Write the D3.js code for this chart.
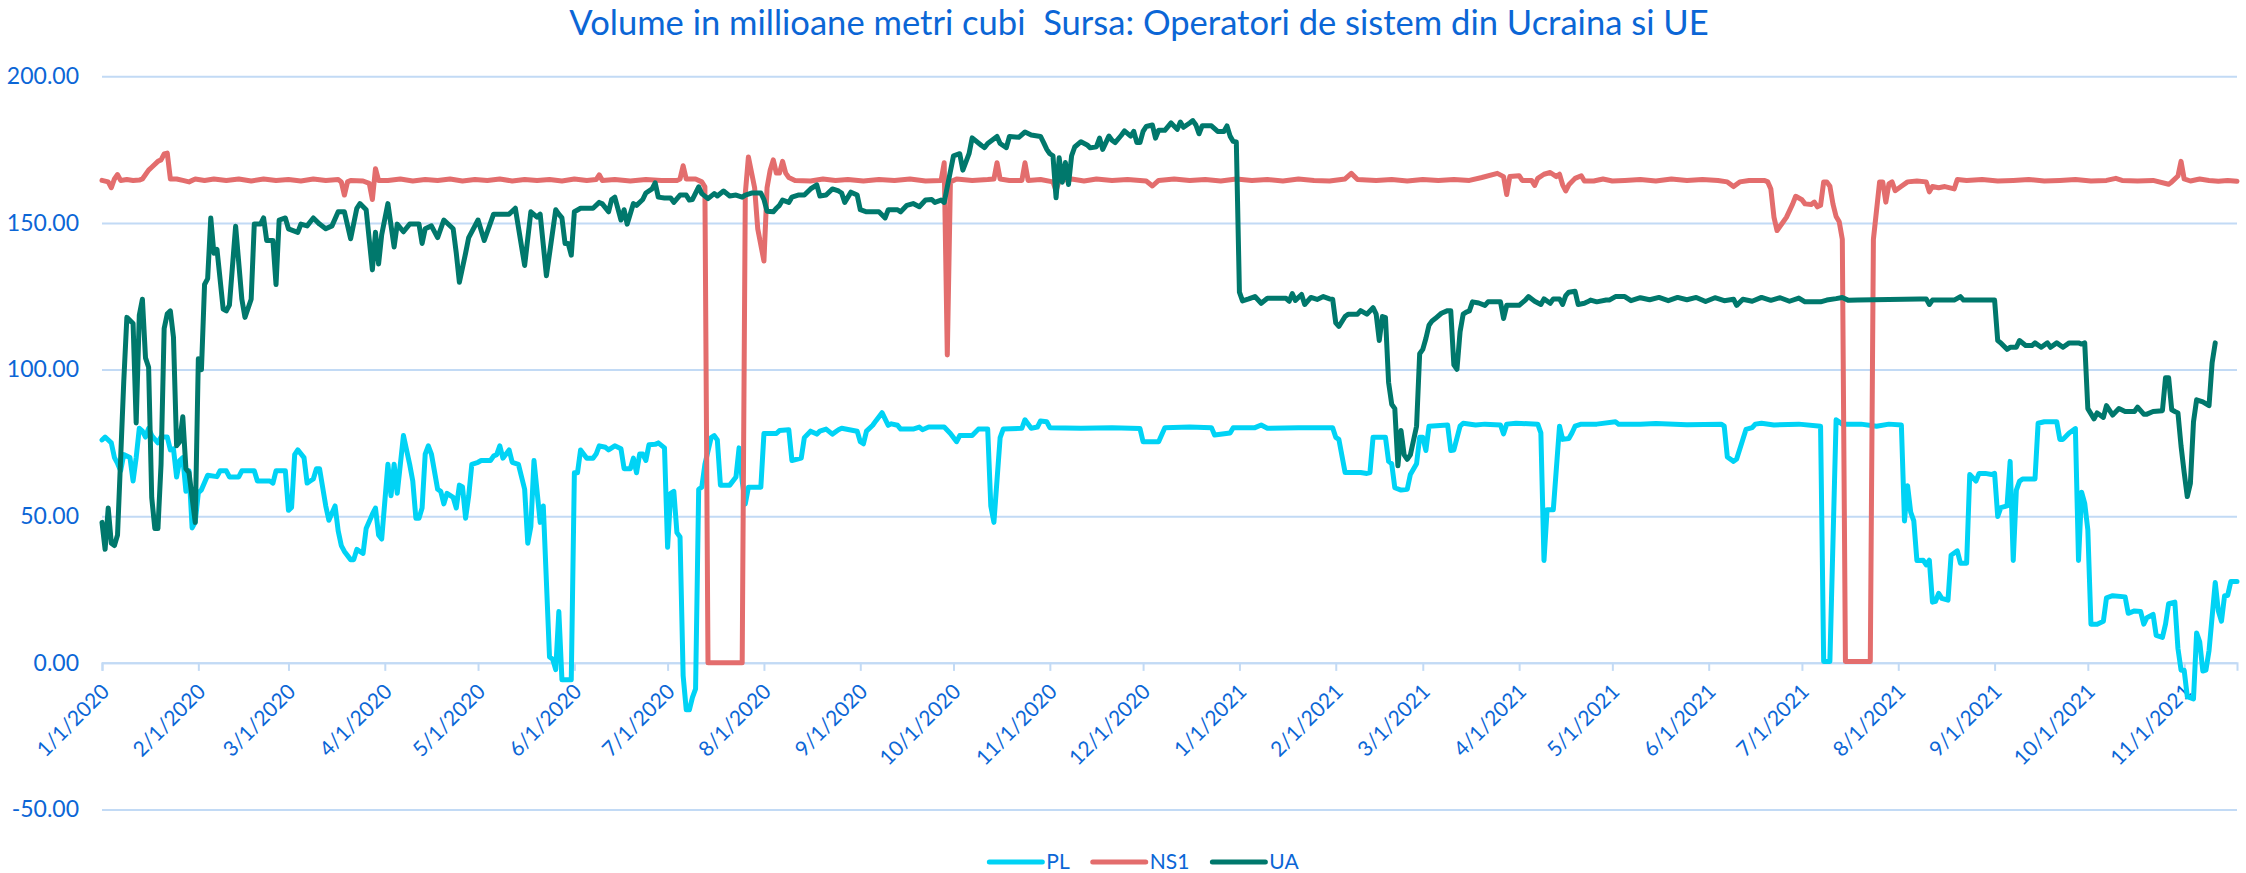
<!DOCTYPE html>
<html>
<head>
<meta charset="utf-8">
<script src="https://cdn.jsdelivr.net/npm/d3@7"></script>
<style>
  html, body { margin: 0; padding: 0; background: #fff; }
  svg { display: block; font-family: Lato, "Open Sans", sans-serif; }
</style>
</head>
<body>
<div id="chart"></div>
<script>
const START = new Date(2020, 0, 1);
const END = new Date(2021, 10, 18);

const seriesNames = ["PL", "NS1", "UA"];
const seriesColors = ["#00d3f5", "#e36d6d", "#00786c"];
const yTicks = [-50, 0, 50, 100, 150, 200];
const titleText = "Volume in millioane metri cubi  Sursa: Operatori de sistem din Ucraina si UE";

// [days since 1/1/2020, value]
const plData = [
  [0,76],[1,77],[3,75],[4,70],[5,68],[6,65.5],[7,71],[9,70],[10,62],[11,70],[12,80],[13,79],[14,77],[15,80],
  [16,77.5],[18,75],[19,77],[21,77],[22,72.6],[23,73],[24,63.4],[25,69],[26,70],[27,58.5],[28,65.5],[29,46],
  [30,48],[31,58],[32,59],[34,64],[37,63.5],[38,65.5],[40,65.5],[41,63.4],[44,63.4],[45,65.5],[49,65.5],[50,62],
  [54,62],[55,61.3],[56,65.5],[59,65.5],[60,52],[61,53],[62,71],[63,72.6],[65,70],[66,61.3],[67,62],[68,62.7],
  [69,66.2],[70,66.2],[72,53.5],[73,48.6],[75,53.5],[76,45],[77,40],[78,38],[80,35.2],[81,35.2],[82,38.7],
  [84,37.3],[85,45.8],[87,50.7],[88,52.8],[89,43.6],[90,42.2],[92,67.7],[93,57],[94,67.7],[95,57.8],[97,77.5],
  [99,67.7],[100,62],[101,49.3],[102,49.3],[103,52.8],[104,71.2],[105,74],[106,71.2],[108,59.2],[109,58.5],
  [110,54.2],[111,57.8],[113,56.4],[114,52.8],[115,60.6],[116,60],[117,49.3],[118,57],[119,67.7],[121,68.4],
  [122,69],[125,69],[126,70.5],[127,71],[128,74],[129,69.8],[131,72.6],[132,68.4],[134,67.7],[136,59.2],
  [137,40.8],[138,46.5],[139,69],[141,47.9],[142,53.5],[144,2],[145,1.3],[146,-2.3],[147,17.5],[148,-5.8],
  [151,-5.8],[152,64.8],[153,64.8],[154,72.6],[156,69.8],[158,69.8],[159,71.2],[160,74],[162,73.5],[163,72.6],
  [165,74],[167,73],[168,66.2],[170,66.2],[171,69.8],[172,64.8],[173,71.2],[174,71.2],[175,69],[176,74.4],
  [178,74.5],[179,75],[181,73.3],[182,39.4],[183,57.8],[184,58.5],[185,44.4],[186,42.9],[187,-4.4],[188,-16],
  [189,-16],[190,-11.8],[191,-8.9],[192,59.2],[193,59.9],[194,67.7],[196,76.8],[197,77.5],[198,76],[199,60.6],
  [202,60.6],[204,63.4],[205,73.3],[206,62],[207,54.2],[208,59.9],[212,59.9],[213,78.2],[217,78.2],[218,79.2],
  [221,79.5],[222,69],[225,69.8],[226,76.8],[228,79],[230,78],[231,79],[233,79.7],[235,78],[237,79.5],[238,80],
  [243,79],[244,75.4],[245,74.7],[246,79],[248,81],[249,82.5],[251,85.3],[253,81],[254,81.5],[256,81],
  [257,79.7],[261,79.7],[263,80.4],[264,79.5],[266,80.4],[271,80.4],[273,78.2],[275,75.4],[276,77.5],[280,77.5],
  [282,79.7],[285,79.7],[286,53.5],[287,47.9],[289,76.8],[290,79.7],[296,80],[297,82.9],[299,80],[301,80.4],
  [302,82.5],[304,82.2],[305,80.2],[315,80],[325,80.2],[334,79.9],[335,75.4],[340,75.4],[342,80.2],[350,80.4],
  [357,80.2],[358,77.7],[363,78.4],[364,80.2],[371,80.2],[373,81.1],[375,80],[385,80.2],[394,80.2],[396,80.2],
  [397,76.9],[398,76.2],[400,64.9],[405,64.9],[407,64.6],[408,64.9],[409,76.9],[413,76.9],[414,68.7],[415,67.9],
  [416,59.7],[418,58.9],[420,59.2],[421,64.2],[423,67.9],[424,76.9],[425,76.9],[426,72.4],[427,80.7],[433,81.1],
  [434,72.4],[435,72.6],[437,80.7],[438,81.7],[442,81.1],[445,81.4],[450,81.1],[451,78.1],[452,81.4],[455,81.7],
  [462,81.4],[463,78.4],[464,34.9],[465,52.2],[467,52.2],[469,80.7],[470,76.2],[472,76.5],[473,78.4],[474,80.7],
  [476,81.4],[481,81.4],[487,82.2],[488,81.4],[495,81.4],[500,81.6],[510,81.2],[521,81.4],[522,80.7],[523,70.2],
  [525,68.7],[526,69.5],[529,79.6],[531,80.2],[532,81.4],[534,81.7],[538,81.1],[546,81.4],[553,80.7],[554,0.5],
  [556,0.5],[558,82.9],[560,81.4],[566,81.4],[571,80.7],[575,81.4],[579,81.1],[580,48.4],[581,60.4],[582,51.4],
  [583,48.4],[584,34.9],[586,35],[587,33.4],[588,35],[589,20.7],[590,21],[591,23.7],[592,22],[594,21.4],
  [595,36.7],[597,38.2],[598,34],[600,34],[601,64.2],[603,62],[604,64.6],[606,64.6],[608,64.2],[609,64.6],
  [610,49.9],[611,52.9],[613,53.5],[614,68.7],[615,34.9],[616,58.9],[617,61.9],[618,62.7],[622,62.7],[623,81.7],
  [625,82.2],[629,82.2],[630,76.2],[631,76.2],[633,78.4],[635,79.9],[636,34.9],[637,58.2],[638,54.4],[639,45.4],
  [640,13.2],[642,13.2],[644,14.2],[645,22.2],[647,22.9],[651,22.5],[652,16.9],[654,17.7],[656,17.5],[657,13.2],
  [658,15.4],[660,16.5],[661,9.4],[663,8.7],[664,13.2],[665,20.2],[667,20.7],[668,4.9],[669,-2.5],[670,-2.5],
  [671,-11.5],[673,-12.3],[674,10.2],[675,7.2],[676,-2.8],[677,-2.5],[678,4.2],[680,27.4],[681,17.7],[682,14.2],
  [683,22.9],[684,23],[685,27.7],[687,27.7]
];

const ns1Data = [
  [0,164.5],[2,164],[3,162],[4,165],[5,166.5],[6,164.5],[8,164.8],[10,164.5],[12,164.6],[13,165],[15,168],
  [16,169],[18,171],[19,171.5],[20,173.5],[21,173.8],[22,165],[24,165],[26,164.5],[28,164],[30,165],[33,164.5],
  [36,165],[40,164.5],[44,165],[48,164.3],[52,165],[56,164.5],[60,164.8],[64,164.3],[68,165],[72,164.5],
  [76,164.8],[77,164],[78,159.5],[79,164],[80,164.5],[84,164.3],[86,163.5],[87,158],[88,168.5],[89,164.5],
  [92,164.5],[96,165],[100,164.3],[104,164.8],[108,164.5],[112,165],[116,164.3],[120,164.8],[124,164.5],
  [128,165],[132,164.3],[136,164.8],[140,164.5],[144,164.8],[148,164.3],[152,165],[156,164.5],[159,164.8],
  [160,166.4],[161,164.5],[165,164.8],[170,164.3],[175,164.8],[180,164.5],[185,164.5],[186,165],[187,169.5],
  [188,165],[191,165],[193,164],[194,162.3],[195,0],[206,0],[207,160],[208,172.5],[210,162],[211,148],
  [213,137],[214,162],[215,168],[216,171.5],[217,167],[218,167],[219,171],[220,167],[221,165.5],[223,164.5],
  [228,164.3],[232,165],[236,164.5],[240,164.8],[245,164.3],[250,164.8],[255,164.5],[260,165],[265,164.3],
  [270,164.5],[271,170.5],[272,105],[273,164],[275,165],[280,164.5],[285,164.8],[287,165],[288,170.5],
  [289,165],[292,164.5],[296,164.5],[297,170.5],[298,164.5],[302,164.8],[306,164],[307,161],[308,164.5],
  [312,165],[316,164.3],[320,165],[325,164.5],[330,164.8],[336,164.3],[338,162.6],[340,164.5],[345,165],
  [350,164.5],[355,164.8],[360,164.3],[365,165],[370,164.5],[375,164.8],[380,164.3],[385,165],[390,164.5],
  [395,164.3],[400,165],[402,166.9],[404,164.8],[410,164.5],[415,164.8],[420,164.3],[425,164.8],[430,164.5],
  [435,164.8],[440,164.5],[444,165.5],[449,166.9],[451,165.8],[452,159.7],[453,165.8],[456,166.1],[457,164.5],
  [460,164.5],[461,162.8],[462,165.2],[464,166.6],[466,167.2],[468,165.8],[469,166.6],[470,163],[471,160.9],
  [472,163],[474,165.2],[476,166.1],[477,164.3],[480,164.3],[483,165],[486,164.3],[490,164.5],[495,164.8],
  [500,164.3],[505,165],[510,164.5],[515,164.8],[520,164.5],[523,164],[525,162.4],[527,164],[530,164.5],
  [535,164.5],[536,164],[537,161.6],[538,152],[539,147.4],[541,150.4],[542,151.9],[544,156.4],[545,159.1],
  [547,157.9],[548,156.5],[550,156.3],[551,157.1],[552,155.5],[553,156],[554,164],[555,164],[556,162.5],
  [557,156.4],[558,152.2],[559,150.4],[560,144.4],[561,0.5],[569,0.5],[570,144.4],[572,164],[573,164],
  [574,157.1],[575,163.3],[576,164],[577,161],[579,162.5],[581,164],[584,164.3],[587,164],[588,160.6],
  [589,162.4],[591,162],[593,162.4],[596,161.6],[597,164.8],[600,164.5],[605,164.8],[610,164.3],[615,164.5],
  [620,164.8],[625,164.3],[630,164.5],[635,164.8],[640,164.3],[645,164.5],[648,165.2],[650,164.5],[655,164.3],
  [660,164.5],[665,163.2],[666,164],[668,166],[669,171],[670,165],[672,164.3],[675,165],[678,164.5],
  [681,164.2],[684,164.5],[687,164.2]
];

const uaData = [
  [0,47.9],[1,38.7],[2,52.8],[3,40.8],[4,40],[5,43.6],[7,95.9],[8,117.8],[10,115.7],[11,81.8],[12,118.5],
  [13,124],[14,104],[15,100.8],[16,56.4],[17,45.8],[18,45.8],[19,67.7],[20,114],[21,119],[22,120],[23,111],
  [24,74],[25,75.4],[26,83.9],[27,66.2],[28,64.8],[30,47.9],[31,103.7],[32,100],[33,129],[34,131],[35,151.7],
  [36,139.7],[37,141],[39,120.6],[40,120],[41,122],[43,148.9],[45,124],[46,117.8],[48,124],[49,149.6],
  [51,149.6],[52,151.7],[53,144],[55,144],[56,129],[57,151],[59,151.7],[60,148],[63,146.8],[64,149.6],[66,149],
  [68,151.7],[70,149.6],[72,148],[74,149],[76,153.8],[78,153.8],[80,144.6],[82,155],[83,156.6],[85,154.5],
  [87,134],[88,146.8],[89,136],[90,146],[92,156.6],[94,141.8],[95,149.6],[97,147],[99,149.6],[102,149.6],
  [103,143],[104,148],[106,149],[108,145],[110,151],[113,148],[114,139.7],[115,129.8],[117,139.7],[118,145],
  [121,151],[123,144],[126,153],[131,153],[133,155],[136,135.5],[138,153.8],[140,152],[141,153],[143,132],
  [146,154.5],[147,153],[148,151.7],[149,143],[150,143],[151,139],[152,153.8],[154,155],[158,155],[160,157],
  [161,156.5],[163,153.8],[164,158],[165,158.8],[167,151],[168,154.5],[169,149.6],[171,156.6],[172,156],
  [174,158],[175,160.2],[177,161.6],[178,163.7],[179,158.8],[181,158.5],[183,158.5],[184,157],[186,159.5],
  [188,159.5],[189,157.8],[190,158],[192,162.3],[193,160],[195,158.3],[197,160],[198,159.2],[200,160.9],
  [202,159.2],[204,159.5],[206,158.8],[207,159.5],[209,160.2],[212,160.2],[213,158],[214,154],[216,153.8],
  [217,155],[218,156],[219,157.8],[221,157],[222,158.8],[224,159.5],[226,159.5],[228,161.6],[230,163],
  [231,159.2],[233,159.5],[235,161.6],[237,160.9],[238,160.2],[239,157],[241,160.5],[243,159.5],[244,154.5],
  [246,153.8],[250,153.8],[252,151.7],[253,154.5],[256,154.5],[257,153.8],[259,156],[261,156.6],[263,155.5],
  [265,157.8],[267,158],[268,157],[270,157.8],[271,157],[272,162.3],[274,172.9],[276,173.6],[277,168],
  [279,173.6],[280,179],[283,176.4],[284,175.7],[285,177.1],[288,179.5],[289,177.1],[291,175.7],[292,179.5],
  [295,179.2],[297,181],[299,180],[302,179.5],[303,177.4],[304,175.1],[305,173.6],[306,172.9],[307,158.6],
  [308,172.2],[309,163.9],[310,170.6],[311,163.1],[312,172.9],[313,175.9],[315,177.7],[317,176.6],[318,175.6],
  [320,176],[321,178.9],[322,175.1],[324,179.6],[325,178.2],[326,177.4],[328,179.9],[329,181.4],[331,179.6],
  [332,181.2],[333,177.4],[334,177.4],[335,181.2],[336,182.9],[338,183.4],[339,178.9],[340,181.6],[342,181.6],
  [344,184.1],[346,181.9],[347,184.4],[348,182.6],[350,184.1],[351,184.9],[352,183.4],[353,180.4],[354,183.1],
  [357,183.1],[359,181.2],[361,181.2],[362,183.1],[363,179.6],[364,177.8],[365,177.6],[366,126.4],[367,123.4],
  [369,124.1],[371,124.9],[373,122.6],[375,124.3],[381,124.3],[382,123.3],[383,125.9],[384,123.6],[386,125.6],
  [387,122.2],[389,124.6],[391,123.9],[393,124.9],[395,124.1],[396,124],[397,115.9],[398,114.7],[400,118.1],
  [401,118.9],[404,118.9],[405,120.1],[407,118.9],[409,121.1],[410,118.9],[411,109.9],[412,118.1],[413,117.7],
  [414,95.6],[415,88.2],[416,86.7],[417,67.2],[418,79.2],[419,70.9],[420,69.4],[421,70.9],[423,80.7],
  [424,105.4],[425,106.9],[426,110.6],[427,115.1],[428,116.6],[429,117.4],[431,119.2],[433,120.1],[434,120.1],
  [435,101.6],[436,100.1],[437,112.9],[438,118.9],[439,119.6],[440,120],[441,123.1],[443,122.7],[445,121.9],
  [446,123.1],[450,123.1],[451,117.4],[452,121.9],[456,121.9],[458,123.7],[459,124.9],[461,123.3],[463,122.2],
  [464,124.1],[466,122.6],[467,124.1],[469,124.1],[470,122.2],[471,125.2],[472,126.4],[474,126.7],[475,122.2],
  [477,122.6],[478,123.1],[479,123.7],[481,123.1],[484,123.7],[485,123.7],[487,124.9],[490,124.9],[492,123.5],
  [495,124.5],[498,123.8],[501,124.6],[504,123.5],[507,124.6],[510,123.8],[513,124.6],[516,123.2],[519,124.5],
  [522,123.5],[525,124],[526,121.9],[528,124],[531,123.3],[534,124.6],[537,123.6],[540,124.5],[543,123.3],
  [546,124.4],[548,123.1],[553,123.1],[555,123.7],[558,124.2],[560,124.6],[562,123.6],[565,123.7],[585,124.1],
  [587,124.1],[588,122.2],[589,123.7],[596,123.7],[598,124.9],[599,123.7],[609,123.7],[610,109.9],[611,109.1],
  [613,106.9],[614,107.6],[616,107.6],[617,109.9],[619,108.2],[621,108.2],[622,109.1],[624,107.6],[626,109.1],
  [627,107.6],[629,109.1],[631,107.6],[633,109.1],[636,109.1],[637,108.7],[638,109.1],[639,86.7],[641,83.2],
  [642,85.2],[644,83.7],[645,87.7],[647,84.5],[649,86.7],[651,85.7],[654,85.7],[655,87.2],[657,84.8],[658,84.8],
  [660,85.7],[663,86],[664,97.2],[665,97.2],[666,86.3],[667,85.7],[668,85.2],[669,73.9],[670,64.9],[671,56.7],
  [672,61.2],[673,82.2],[674,89.7],[676,89],[678,87.7],[679,102.4],[680,109.1]
];

const allSeries = [plData, ns1Data, uaData];

const width = 2246, height = 873;
const plot = {left: 102, right: 2237, top: 76.3, bottom: 809.5};
const textBlue = "#0b66d6";
const gridBlue = "#c2daf5";

const x = d3.scaleTime().domain([START, END]).range([plot.left, plot.right]);
const y = d3.scaleLinear().domain([-50, 200]).range([plot.bottom, plot.top]);

const svg = d3.select("#chart").append("svg")
    .attr("width", width)
    .attr("height", height);

// title, sized to the width it has in the original (keeps the double space)
const title = svg.append("text")
    .attr("x", 1139)
    .attr("y", 35)
    .attr("text-anchor", "middle")
    .attr("fill", textBlue)
    .style("white-space", "pre")
    .style("font-size", "30px")
    .text(titleText);
const tw = title.node().getComputedTextLength();
title.style("font-size", (30 * 1140 / tw) + "px");

// horizontal gridlines + y labels
const yAxis = d3.axisLeft(y)
    .tickValues(yTicks)
    .tickSize(-(plot.right - plot.left))
    .tickPadding(23)
    .tickFormat(d => d3.format(".2f")(d).replace("\u2212", "-"));

const gy = svg.append("g")
    .attr("transform", "translate(" + plot.left + ",0)")
    .call(yAxis);
gy.select(".domain").remove();
gy.selectAll("line").attr("stroke", gridBlue).attr("stroke-width", 2);
gy.selectAll("text")
    .attr("fill", textBlue)
    .style("font-size", "23px")
    .style("font-family", "Lato, sans-serif");

// date axis sitting on zero
const xAxis = d3.axisBottom(x)
    .ticks(d3.timeMonth.every(1))
    .tickSize(8)
    .tickFormat(d3.timeFormat("%-m/%-d/%Y"));

const gx = svg.append("g")
    .attr("transform", "translate(0," + y(0) + ")")
    .call(xAxis);
gx.select(".domain").attr("stroke", gridBlue).attr("stroke-width", 2);
gx.selectAll(".tick line").attr("stroke", gridBlue).attr("stroke-width", 2);
gx.selectAll(".tick text")
    .attr("fill", textBlue)
    .style("font-size", "21px")
    .style("font-family", "Lato, sans-serif")
    .attr("text-anchor", "end")
    .attr("dy", null)
    .attr("y", null)
    .attr("transform", "translate(8,30) rotate(-45)");

// series lines
const line = d3.line()
    .x(d => x(d3.timeDay.offset(START, d[0])))
    .y(d => y(d[1]));

svg.append("g")
    .selectAll("path")
    .data(allSeries)
    .join("path")
    .attr("d", line)
    .attr("fill", "none")
    .attr("stroke", (d, i) => seriesColors[i])
    .attr("stroke-width", 5)
    .attr("stroke-linejoin", "round")
    .attr("stroke-linecap", "round");

// legend
const legend = svg.append("g");
let lx = 0;
seriesNames.forEach((name, i) => {
  const item = legend.append("g").attr("transform", "translate(" + lx + ",0)");
  item.append("line")
      .attr("x1", 2).attr("x2", 55)
      .attr("y1", 0).attr("y2", 0)
      .attr("stroke", seriesColors[i])
      .attr("stroke-width", 5)
      .attr("stroke-linecap", "round");
  const t = item.append("text")
      .attr("x", 59)
      .attr("y", 7)
      .attr("fill", textBlue)
      .style("font-size", "21px")
      .text(name);
  lx += 59 + t.node().getComputedTextLength() + 21;
});
lx -= 21;
legend.attr("transform", "translate(" + (1143 - lx / 2) + ",862)");
</script>
</body>
</html>
